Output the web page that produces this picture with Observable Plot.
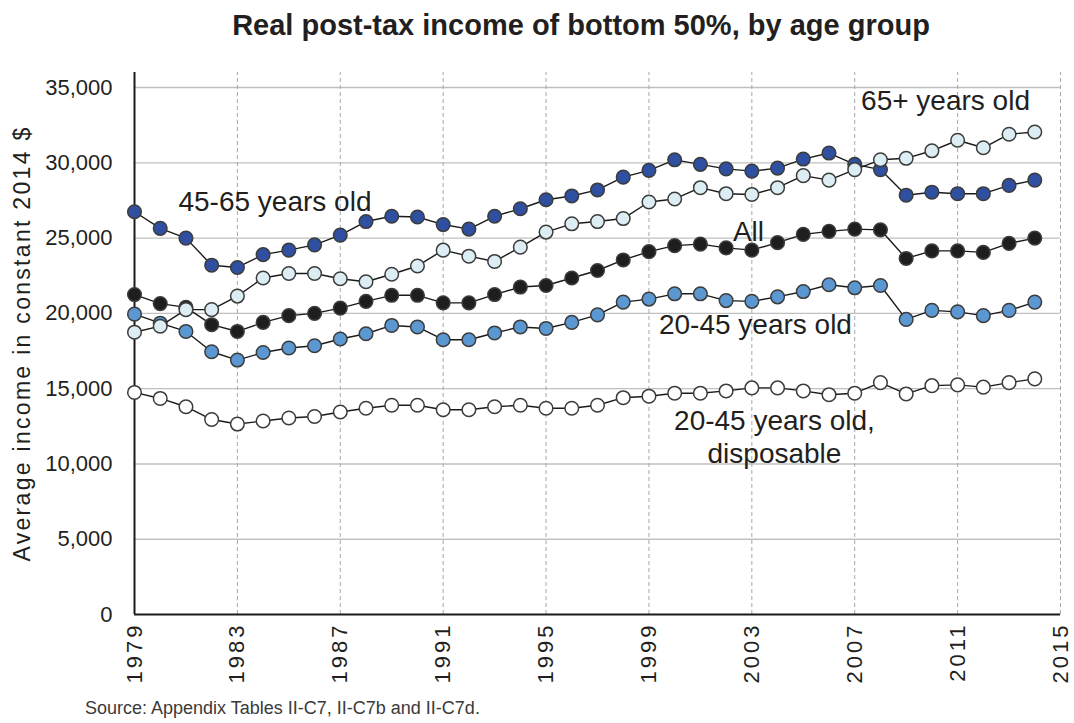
<!DOCTYPE html>
<html>
<head>
<meta charset="utf-8">
<script src="https://cdn.jsdelivr.net/npm/d3@7"></script>
<script src="https://cdn.jsdelivr.net/npm/@observablehq/plot@0.6"></script>
<style>
  html, body { margin: 0; padding: 0; background: #fff; }
  #wrap { position: relative; width: 1074px; height: 723px; overflow: hidden; font-family: "Liberation Sans", Arial, sans-serif; }
  #title { position: absolute; left: 0; top: 11px; width: 1162px; text-align: center; font-size: 29px; line-height: 29px; font-weight: bold; color: #231f20; white-space: nowrap; }
  #caption { position: absolute; left: 85px; top: 699px; font-size: 18px; line-height: 19px; color: #3a3a3a; white-space: nowrap; }
  #chart { position: absolute; left: 0; top: 50px; }
</style>
</head>
<body>
<div id="wrap">
  <div id="title">Real post-tax income of bottom 50%, by age group</div>
  <div id="chart"></div>
  <div id="caption">Source: Appendix Tables II-C7, II-C7b and II-C7d.</div>
</div>
<script>
const years = d3.range(1979, 2015);

const age4565 = [26750, 25650, 25000, 23200, 23050, 23900, 24200, 24550, 25200, 26100, 26450, 26400,
  25900, 25600, 26450, 26950, 27550, 27800, 28200, 29050, 29500, 30200, 29900, 29600,
  29450, 29650, 30250, 30650, 29900, 29550, 27850, 28050, 27950, 27950, 28500, 28850];
const age65 = [18750, 19150, 20250, 20250, 21150, 22350, 22650, 22650, 22300, 22100, 22600, 23150,
  24200, 23800, 23450, 24400, 25400, 25950, 26100, 26300, 27400, 27600, 28350, 27950,
  27900, 28350, 29150, 28850, 29550, 30200, 30300, 30800, 31500, 31000, 31900, 32050];
const allAges = [21250, 20650, 20400, 19250, 18800, 19400, 19850, 20000, 20350, 20800, 21200, 21200,
  20700, 20700, 21250, 21750, 21850, 22350, 22850, 23550, 24100, 24500, 24600, 24350,
  24200, 24700, 25250, 25450, 25600, 25550, 23650, 24150, 24150, 24050, 24650, 25000];
const age2045 = [19950, 19350, 18800, 17450, 16900, 17400, 17700, 17850, 18300, 18650, 19200, 19100,
  18250, 18250, 18700, 19100, 19000, 19400, 19900, 20750, 20950, 21300, 21300, 20850,
  20800, 21100, 21450, 21900, 21700, 21850, 19600, 20200, 20100, 19850, 20200, 20750];
const age2045disp = [14750, 14350, 13800, 12950, 12650, 12850, 13050, 13150, 13450, 13700, 13900, 13900,
  13600, 13600, 13800, 13900, 13700, 13700, 13900, 14400, 14500, 14700, 14700, 14850,
  15050, 15050, 14850, 14600, 14700, 15400, 14650, 15200, 15250, 15100, 15400, 15650];

const seriesNames = ["20-45 years old, disposable", "20-45 years old", "All", "45-65 years old", "65+ years old"];
const seriesValues = [age2045disp, age2045, allAges, age4565, age65];

const xTicks = [1979, 1983, 1987, 1991, 1995, 1999, 2003, 2007, 2011, 2015];
const yTicks = [0, 5000, 10000, 15000, 20000, 25000, 30000, 35000];

const labelTexts = ["45-65 years old", "65+ years old", "All", "20-45 years old", "20-45 years old,\ndisposable"];
const labelYears = [1984.46, 2010.53, 2002.87, 2003.14, 2003.88];
const labelValues = [26830, 33540, 24840, 18640, 10030];

const yTitle = "Average income in constant 2014 $";

// styles (kept apart from data)
const fills = {
  "20-45 years old, disposable": "#ffffff",
  "20-45 years old": "#5b98d2",
  "All": "#1e1e1e",
  "45-65 years old": "#2f4fa0",
  "65+ years old": "#dcedf3"
};

const rows = seriesNames.flatMap((s, i) => seriesValues[i].map((v, j) => ({series: s, year: years[j], value: v})));
const labels = labelTexts.map((t, i) => ({text: t, year: labelYears[i], value: labelValues[i]}));

const marks = [
  Plot.ruleY(yTicks.filter(v => v > 0), {stroke: "#c0c0c0", strokeWidth: 1.4}),
  Plot.ruleX(xTicks.filter(v => v > 1979), {y1: 0, y2: 36000, stroke: "#a8a8a8", strokeWidth: 1, strokeDasharray: "4,3"}),
  Plot.ruleX([1979], {y1: 0, y2: 36000, stroke: "#1a1a1a", strokeWidth: 2}),
  Plot.ruleY([0], {stroke: "#1a1a1a", strokeWidth: 2}),
  Plot.axisY({ticks: yTicks, tickFormat: d3.format(","), tickSize: 0, tickPadding: 22, fontSize: 22, label: null}),
  Plot.axisX({ticks: xTicks, tickFormat: d => String(d), tickSize: 0, tickPadding: 8, tickRotate: -90, fontSize: 22, label: null}),
  Plot.text([yTitle], {frameAnchor: "left", rotate: -90, dx: -112, fontSize: 23, lineAnchor: "middle", textAnchor: "middle", fill: "#231f20"})
];
for (const s of seriesNames) {
  const data = rows.filter(d => d.series === s);
  marks.push(Plot.line(data, {x: "year", y: "value", stroke: "#1a1a1a", strokeWidth: 1.4}));
  marks.push(Plot.dot(data, {x: "year", y: "value", r: 6.8, fill: fills[s], stroke: "#3c3c3c", strokeWidth: 1.5}));
}
marks.push(Plot.text(labels, {x: "year", y: "value", text: "text", fontSize: 28, lineAnchor: "bottom", textAnchor: "middle", lineHeight: 1.18, fill: "#231f20"}));

const chart = Plot.plot({
  width: 1074,
  height: 650,
  marginTop: 22,
  marginBottom: 86,
  marginLeft: 134,
  marginRight: 14,
  style: {fontFamily: "'Liberation Sans', Arial, sans-serif", color: "#231f20", background: "#fff"},
  x: {domain: [1979, 2015], axis: null},
  y: {domain: [0, 36000], axis: null},
  marks
});
document.getElementById("chart").appendChild(chart);

// stretched lettering of the rotated texts, as in the reference
d3.select(chart).selectAll('g[aria-label="x-axis tick label"] text').style("letter-spacing", "3px");
d3.select(chart).selectAll('g[aria-label="text"] text').filter(function() { return this.textContent === yTitle; }).style("letter-spacing", "2.3px");
</script>
</body>
</html>
